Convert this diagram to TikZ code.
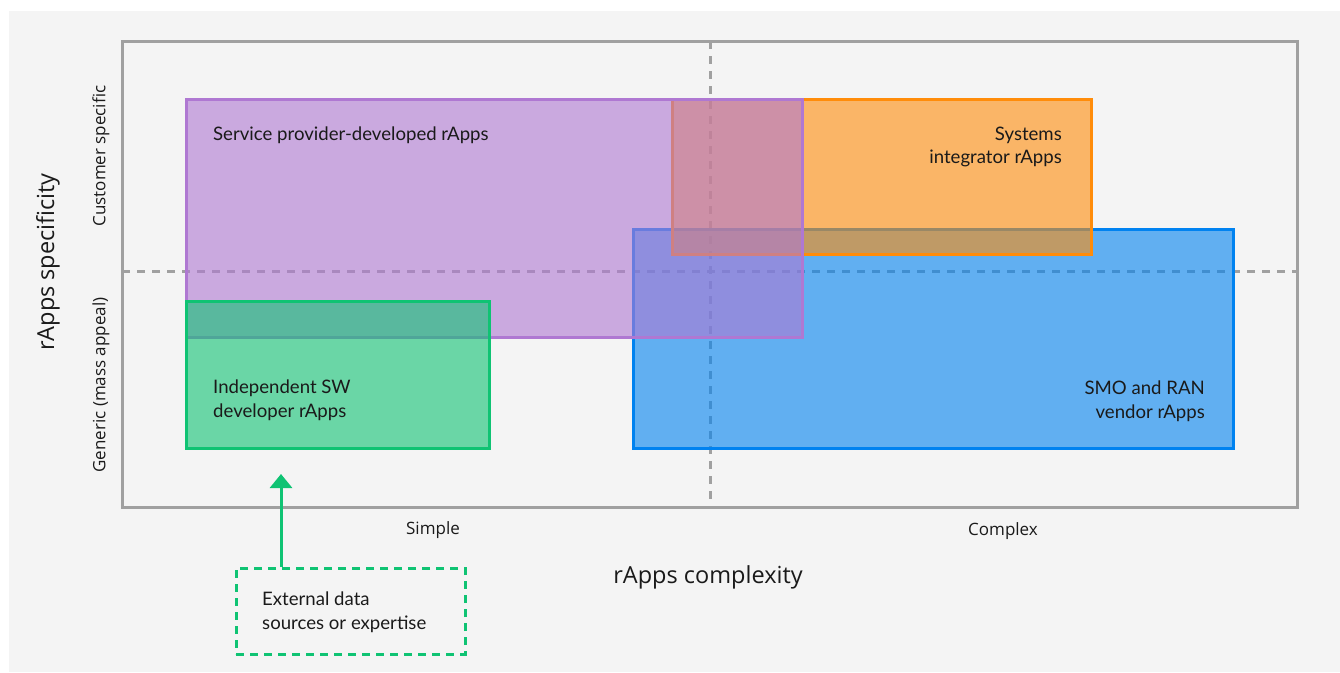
\documentclass[tikz,border=0pt]{standalone}
\usepackage{fontspec}
\setmainfont{Lato}
\newfontfamily\axisfont{Open Sans}
\usetikzlibrary{arrows.meta}
\definecolor{bgpanel}{HTML}{F4F4F4}
\definecolor{framegray}{HTML}{A0A0A0}
\definecolor{epurple}{HTML}{AF78D2}
\definecolor{eorange}{HTML}{FF8C0A}
\definecolor{eblue}{HTML}{0082F0}
\definecolor{egreen}{HTML}{0FC373}
\definecolor{txt}{HTML}{1A1A1A}
\tikzset{
  region/.style={line width=3pt, fill opacity=0.6},
  gridline/.style={framegray, line width=3pt, dash pattern=on 8pt off 7pt},
  boxtext/.style={font=\fontsize{18.6}{23.5}\selectfont, text=txt, inner sep=0pt},
  axislabel/.style={font=\axisfont\fontsize{23.5}{28}\selectfont, text=txt, inner sep=0pt},
  ticklabel/.style={font=\axisfont\fontsize{17}{20}\selectfont, text=txt, inner sep=0pt},
}
\begin{document}
\begin{tikzpicture}[x=1pt,y=-1pt]
  \useasboundingbox (0,0) rectangle (1340,672);
  \fill[white] (0,0) rectangle (1340,672);
  \fill[bgpanel] (9,11) rectangle (1340,672);

  % quadrant dividers
  \coordinate (vtop) at (710,41);
  \coordinate (vbot) at (710,507);
  \coordinate (hl) at (122,271);
  \coordinate (hr) at (1297,271);
  \draw[gridline] (vtop) -- (vbot);
  \draw[gridline] (hl) -- (hr);

  % overlapping regions
  \draw[region, draw=eblue, fill=eblue] (633,229) rectangle (1233,448);
  \draw[region, draw=eorange, fill=eorange] (672,99) rectangle (1091,254);
  \draw[region, draw=epurple, fill=epurple] (186,99) rectangle (802,337);
  \draw[region, draw=egreen, fill=egreen] (186,301) rectangle (489,448);

  % chart frame
  \draw[framegray, line width=3pt] (122,41) rectangle (1297,507);

  % region labels
  \node[boxtext, anchor=west] (sp) at (213,135) {Service provider-developed rApps};
  \node[boxtext, anchor=east, align=right] (si) at (1062,147) {Systems\\integrator rApps};
  \node[boxtext, anchor=west, align=left] (isw) at (213,400) {Independent SW\\developer rApps};
  \node[boxtext, anchor=east, align=right] (smo) at (1205,401) {SMO and RAN\\vendor rApps};

  % axes
  \node[axislabel, rotate=90] (yax) at (48,262) {rApps specificity};
  \node[axislabel] (xax) at (708,577) {rApps complexity};
  \node[ticklabel, rotate=90] (cs) at (101,156) {Customer specific};
  \node[ticklabel, rotate=90] (gen) at (101,385) {Generic (mass appeal)};
  \node[ticklabel] (simple) at (433,530) {Simple};
  \node[ticklabel] (complex) at (1003,531) {Complex};

  % external input
  \node[draw=egreen, line width=3pt, dash pattern=on 8pt off 6pt,
        minimum width=229pt, minimum height=86pt, inner sep=0pt] (ext) at (350.5,611) {};
  \node[boxtext, anchor=west, align=left] (extt) at (262,612) {External data\\sources or expertise};
  \coordinate (tip) at (281,474);
  \draw[egreen, line width=3pt, -{Triangle[length=14pt, width=22pt]}] (ext.north -| tip) -- (tip);
\end{tikzpicture}
\end{document}
